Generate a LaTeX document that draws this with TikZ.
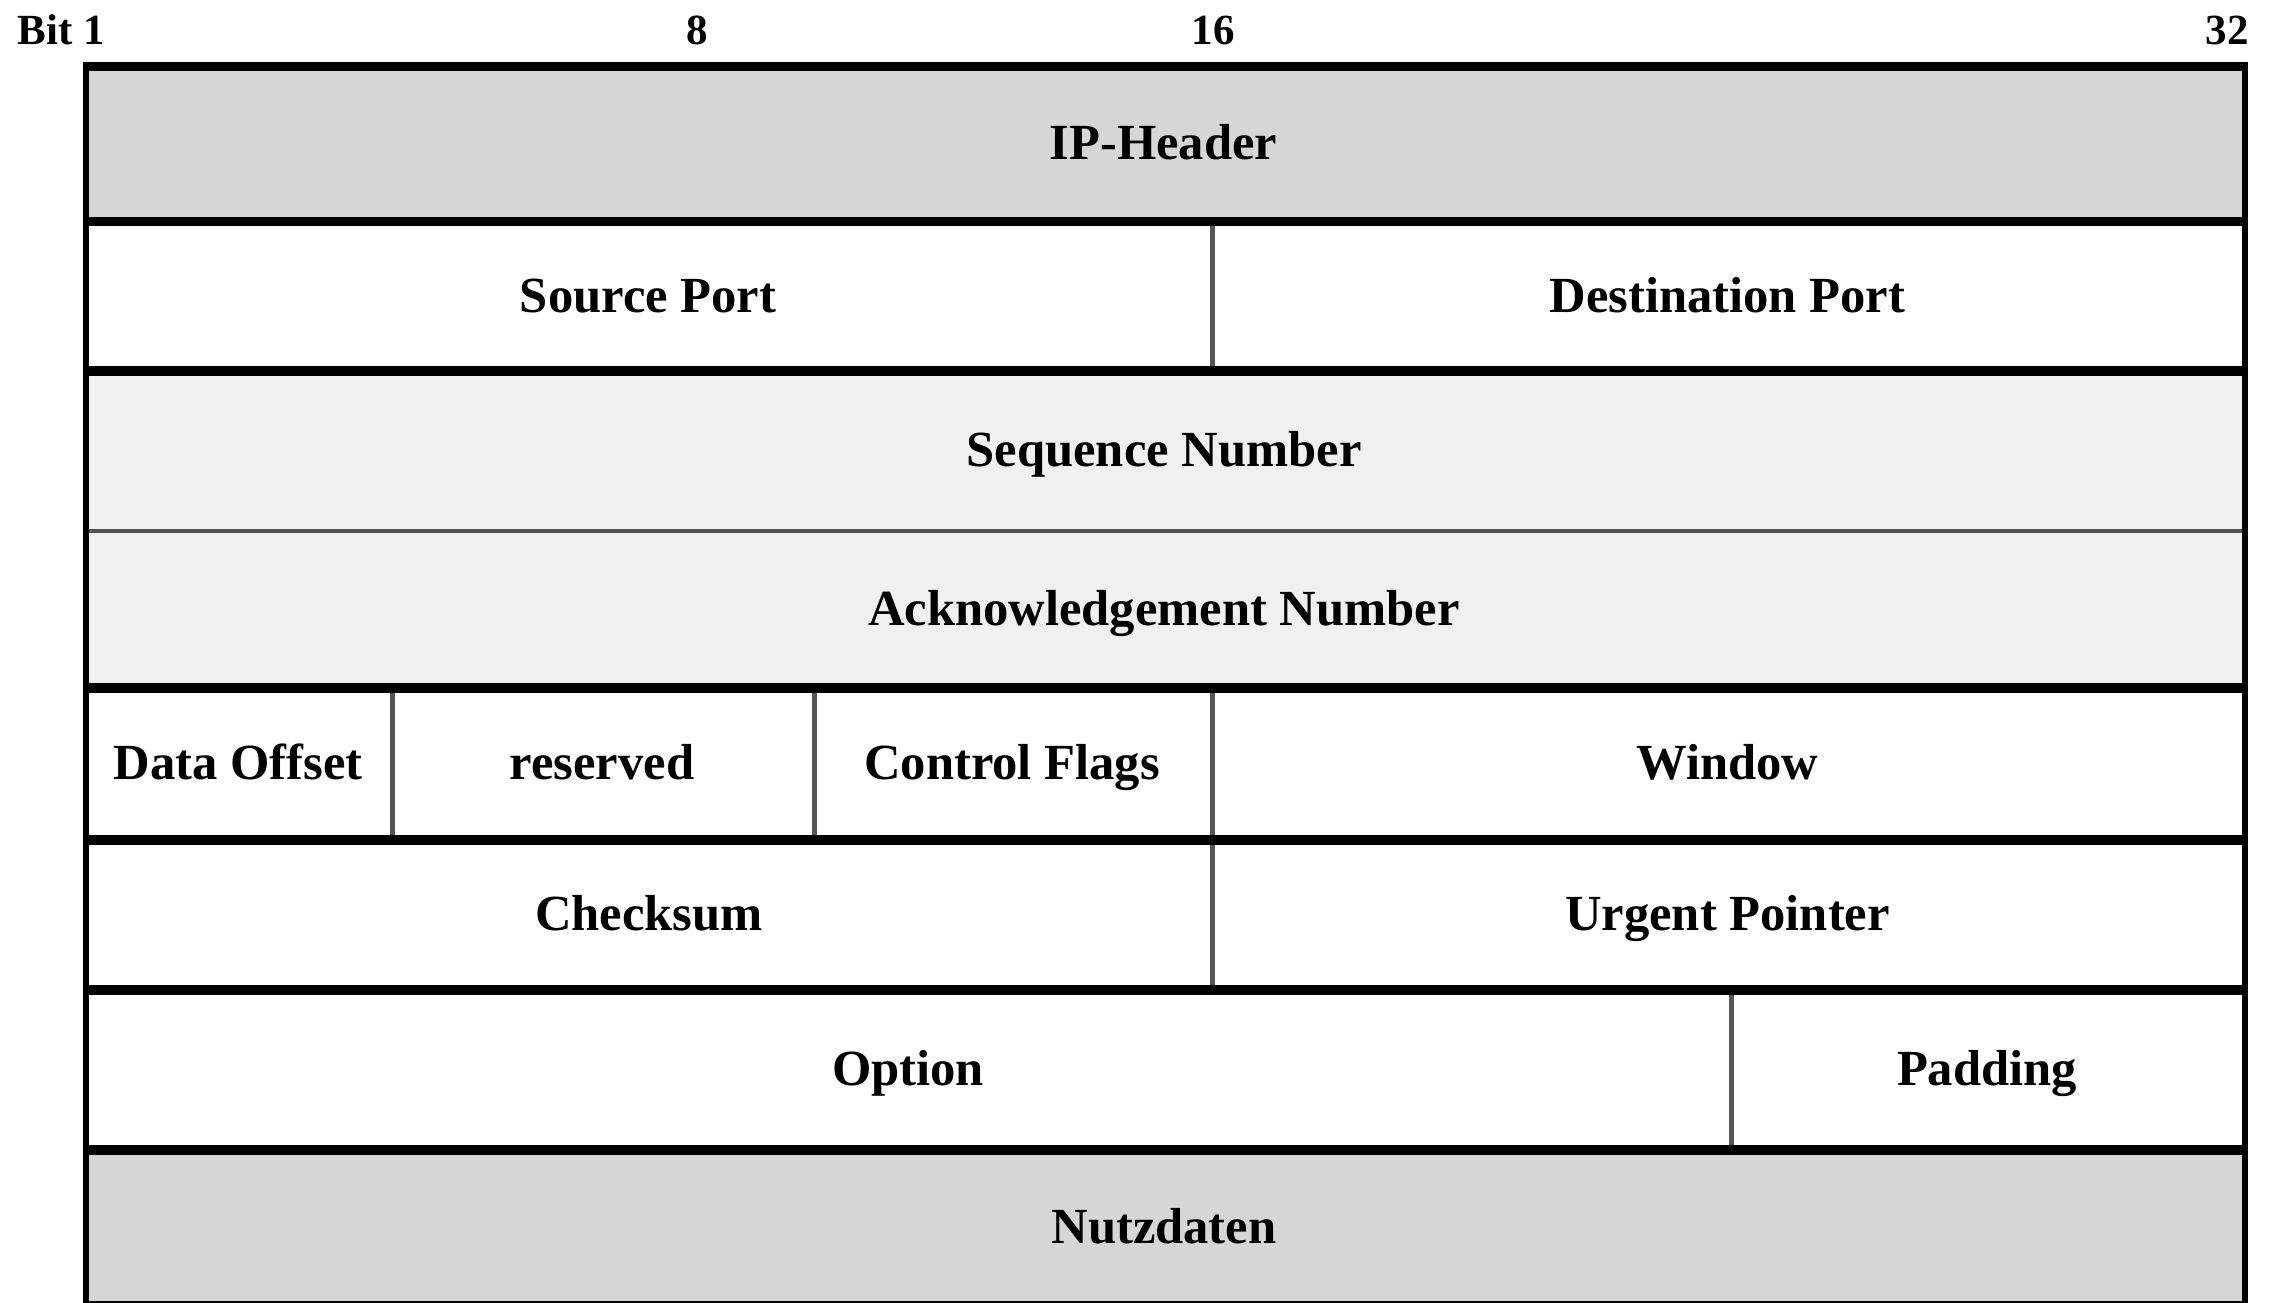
\documentclass[tikz,border=0pt]{standalone}
\usepackage{fontspec}
\setmainfont{Liberation Serif}
\definecolor{headgray}{HTML}{D6D6D6}
\definecolor{numgray}{HTML}{F0F0F0}
\definecolor{divgray}{HTML}{555555}
\begin{document}
\begin{tikzpicture}[x=0.5pt,y=-0.5pt,
  field/.style={font=\fontsize{25.3}{30}\selectfont\bfseries, inner sep=0pt, anchor=base},
  bitlabel/.style={font=\fontsize{21.5}{26}\selectfont\bfseries, inner sep=0pt},
  hrule/.style={line width=4.75pt, draw=black},
  vrule/.style={line width=3pt, draw=black},
  divider/.style={line width=2.5pt, draw=divgray},
  thinrule/.style={line width=2pt, draw=divgray}]
\useasboundingbox (0,0) rectangle (2271,1302);

% row backgrounds
\fill[headgray] (86,66.5) rectangle (2245,221.5);
\fill[numgray]  (86,371) rectangle (2245,688);
\fill[headgray] (86,1150) rectangle (2245,1310);

% field dividers inside rows
\draw[divider] (1212,221.5) -- (1212,371);
\draw[divider] (392,688) -- (392,840);
\draw[divider] (814,688) -- (814,840);
\draw[divider] (1212,688) -- (1212,840);
\draw[divider] (1212,840) -- (1212,990);
\draw[divider] (1731.5,990) -- (1731.5,1150);
\draw[thinrule] (86,531) -- (2245,531);

% heavy row separators
\foreach \y in {66.5,221.5,371,688,840,990,1150,1306}
  \draw[hrule] (83,\y) -- (2248,\y);

% outer side borders
\draw[vrule] (86,62) -- (86,1310);
\draw[vrule] (2245,62) -- (2245,1310);

% bit positions
\node[bitlabel, anchor=base west] (b1)  at (17,44)   {Bit 1};
\node[bitlabel, anchor=base]      (b8)  at (697,44)  {8};
\node[bitlabel, anchor=base]      (b16) at (1213,44) {16};
\node[bitlabel, anchor=base east] (b32) at (2249,44) {32};

% header fields
\node[field] (ip)    at (1163.5,159.5) {IP-Header};
\node[field] (sport) at (648,312)      {Source Port};
\node[field] (dport) at (1727.5,312)   {Destination Port};
\node[field] (seq)   at (1164,466.5)   {Sequence Number};
\node[field] (ack)   at (1164,625)     {Acknowledgement Number};
\node[field] (doff)  at (238,779.5)    {Data Offset};
\node[field] (res)   at (602,779.5)    {reserved};
\node[field] (flags) at (1012,779.5)   {Control Flags};
\node[field] (win)   at (1727.5,779.5) {Window};
\node[field] (csum)  at (649,930.5)    {Checksum};
\node[field] (urg)   at (1727.5,930.5) {Urgent Pointer};
\node[field] (opt)   at (908,1085.5)   {Option};
\node[field] (pad)   at (1987,1085.5)  {Padding};
\node[field] (data)  at (1164,1243.5)  {Nutzdaten};
\end{tikzpicture}
\end{document}
